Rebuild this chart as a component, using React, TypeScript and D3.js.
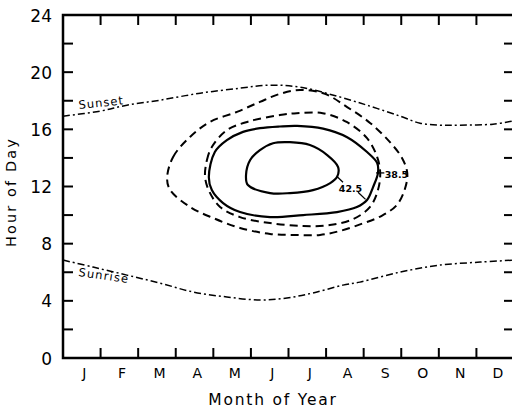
import React from "react";
import * as d3 from "d3";

const monthLabels = ["J", "F", "M", "A", "M", "J", "J", "A", "S", "O", "N", "D"];
const hourLabels = [0, 4, 8, 12, 16, 20, 24];
const hourTicks = [0, 2, 4, 6, 8, 10, 12, 14, 16, 18, 20, 22, 24];
const monthTicks = [0, 1, 2, 3, 4, 5, 6, 7, 8, 9, 10, 11, 12];

// [month, hour]
const sunset: [number, number][] = [
  [0, 16.92], [0.98, 17.27], [1.7, 17.69], [2.58, 18.04], [3.65, 18.53], [4.71, 18.88],
  [5.51, 19.09], [6.31, 18.95], [7.29, 18.32], [8.17, 17.62], [8.97, 16.92], [9.5, 16.43],
  [10.03, 16.29], [10.56, 16.29], [11.44, 16.36], [12, 16.6],
];
const sunrise: [number, number][] = [
  [0, 6.85], [0.8, 6.36], [1.7, 5.8], [2.58, 5.24], [3.46, 4.62], [4.36, 4.27], [5.24, 4.06],
  [5.96, 4.2], [6.65, 4.55], [7.45, 5.1], [7.9, 5.31], [8.97, 6.01], [10.03, 6.5],
  [11.1, 6.71], [12, 6.85],
];
const outerDashed: [number, number][] = [
  [2.77, 12.6], [2.93, 14.07], [3.38, 15.47], [3.91, 16.52], [4.63, 17.22], [5.24, 17.92],
  [5.77, 18.48], [6.31, 18.76], [6.97, 18.48], [7.56, 17.56], [8.17, 16.45], [8.7, 15.1],
  [9.02, 14.0], [9.16, 12.95], [9.1, 11.85], [8.88, 10.7], [8.48, 9.95], [7.98, 9.42],
  [7.37, 8.89], [6.84, 8.61], [6.17, 8.61], [5.51, 8.68], [4.71, 9.1], [3.99, 9.8],
  [3.38, 10.57], [2.85, 11.76],
];
const innerDashed: [number, number][] = [
  [3.78, 12.66], [3.83, 13.85], [3.96, 14.76], [4.36, 15.94], [4.97, 16.57], [5.77, 17.0],
  [6.22, 17.13], [6.91, 17.13], [7.56, 16.5], [8.09, 15.38], [8.36, 14.06], [8.44, 12.94],
  [8.38, 11.75], [8.17, 10.57], [7.72, 9.72], [7.1, 9.3], [6.39, 9.23], [5.51, 9.44],
  [4.71, 9.86], [4.18, 10.57], [3.9, 11.61],
];
const contour385: [number, number][] = [
  [3.88, 12.66], [4.04, 14.41], [4.36, 15.24], [4.79, 15.82], [5.24, 16.08], [5.77, 16.2],
  [6.23, 16.24], [6.92, 16.05], [7.56, 15.45], [8.09, 14.41], [8.36, 13.64], [8.38, 12.94],
  [8.25, 11.96], [8.09, 11.05], [7.82, 10.56], [7.29, 10.21], [6.39, 10.0], [5.51, 9.86],
  [4.71, 10.21], [4.26, 10.84], [3.96, 11.75],
];
const contour425: [number, number][] = [
  [4.87, 12.8], [4.98, 13.85], [5.24, 14.55], [5.59, 15.03], [6.04, 15.1], [6.57, 14.9],
  [7.03, 14.2], [7.32, 13.36], [7.29, 12.66], [7.11, 12.24], [6.65, 11.75], [6.04, 11.54],
  [5.51, 11.54], [4.92, 12.1],
];

const W = 512;
const H = 412;

export default function App() {
  const x = d3.scaleLinear().domain([0, 12]).range([63, 514]);
  const y = d3.scaleLinear().domain([0, 24]).range([358, 15]);
  const open = d3.line<[number, number]>().x((d) => x(d[0])).y((d) => y(d[1])).curve(d3.curveCatmullRom);
  const closed = d3.line<[number, number]>().x((d) => x(d[0])).y((d) => y(d[1])).curve(d3.curveCatmullRomClosed);
  const font = "DejaVu Sans, sans-serif";
  const tickLen = 10;
  const dashDot = "7,3,2,3";
  const dash = "8,5";

  return (
    <svg width={W} height={H} style={{ position: "absolute", left: 0, top: 0, background: "#fff" }} fontFamily={font}>
      <rect x={0} y={0} width={W} height={H} fill="#fff" />
      {/* frame */}
      <rect x={x(0)} y={y(24)} width={x(12) - x(0)} height={y(0) - y(24)} fill="none" stroke="#000" strokeWidth={2.5} />
      {hourTicks.map((h) => (
        <g key={"h" + h}>
          <line x1={x(0)} x2={x(0) + tickLen} y1={y(h)} y2={y(h)} stroke="#000" strokeWidth={2} />
          <line x1={x(12)} x2={x(12) - tickLen} y1={y(h)} y2={y(h)} stroke="#000" strokeWidth={2} />
        </g>
      ))}
      {monthTicks.map((m) => (
        <g key={"m" + m}>
          <line x1={x(m)} x2={x(m)} y1={y(0)} y2={y(0) - tickLen} stroke="#000" strokeWidth={2} />
          <line x1={x(m)} x2={x(m)} y1={y(24)} y2={y(24) + tickLen} stroke="#000" strokeWidth={2} />
        </g>
      ))}
      {hourLabels.map((h) => (
        <text key={"hl" + h} x={52} y={y(h) + 6.5} textAnchor="end" fontSize={17}>
          {h}
        </text>
      ))}
      {monthLabels.map((m, i) => (
        <text key={"ml" + i} x={x(i + 0.57)} y={378} textAnchor="middle" fontSize={14}>
          {m}
        </text>
      ))}
      <text x={273} y={405} textAnchor="middle" fontSize={15.5} letterSpacing={1.8}>
        Month of Year
      </text>
      <text transform={`translate(16,192) rotate(-90)`} textAnchor="middle" fontSize={14.5} letterSpacing={2.1}>
        Hour of Day
      </text>

      {/* sunrise / sunset */}
      <path d={open(sunset) || ""} fill="none" stroke="#000" strokeWidth={1.5} strokeDasharray={dashDot} />
      <path d={open(sunrise) || ""} fill="none" stroke="#000" strokeWidth={1.5} strokeDasharray={dashDot} />
      <text transform={`translate(79,109) rotate(-6)`} fontSize={11.5} letterSpacing={1} fill="#000">
        Sunset
      </text>
      <text transform={`translate(78,276) rotate(8)`} fontSize={11.5} letterSpacing={1.2} fill="#000">
        Sunrise
      </text>

      {/* contours */}
      <path d={closed(outerDashed) || ""} fill="none" stroke="#000" strokeWidth={2} strokeDasharray={dash} />
      <path d={closed(innerDashed) || ""} fill="none" stroke="#000" strokeWidth={2} strokeDasharray={dash} />
      <path d={closed(contour385) || ""} fill="none" stroke="#000" strokeWidth={2.2} />
      <path d={closed(contour425) || ""} fill="none" stroke="#000" strokeWidth={2.2} />

      {/* labels */}
      <line x1={x(7.29)} y1={y(12.7)} x2={x(7.45)} y2={y(12.3)} stroke="#000" strokeWidth={1.3} />
      <line x1={x(7.85)} y1={y(11.6)} x2={x(8.05)} y2={y(11.1)} stroke="#000" strokeWidth={1.3} />
      <text x={x(7.65)} y={y(11.65)} textAnchor="middle" fontSize={9.5} fontWeight="bold">
        42.5
      </text>
      <line x1={x(8.33)} y1={y(12.95)} x2={x(8.55)} y2={y(12.95)} stroke="#000" strokeWidth={1.3} />
      <text x={x(8.56)} y={y(12.6)} fontSize={9.5} fontWeight="bold">
        38.5
      </text>
      <line x1={x(9.1)} y1={y(12.95)} x2={x(9.18)} y2={y(12.95)} stroke="#000" strokeWidth={1.3} />
    </svg>
  );
}
